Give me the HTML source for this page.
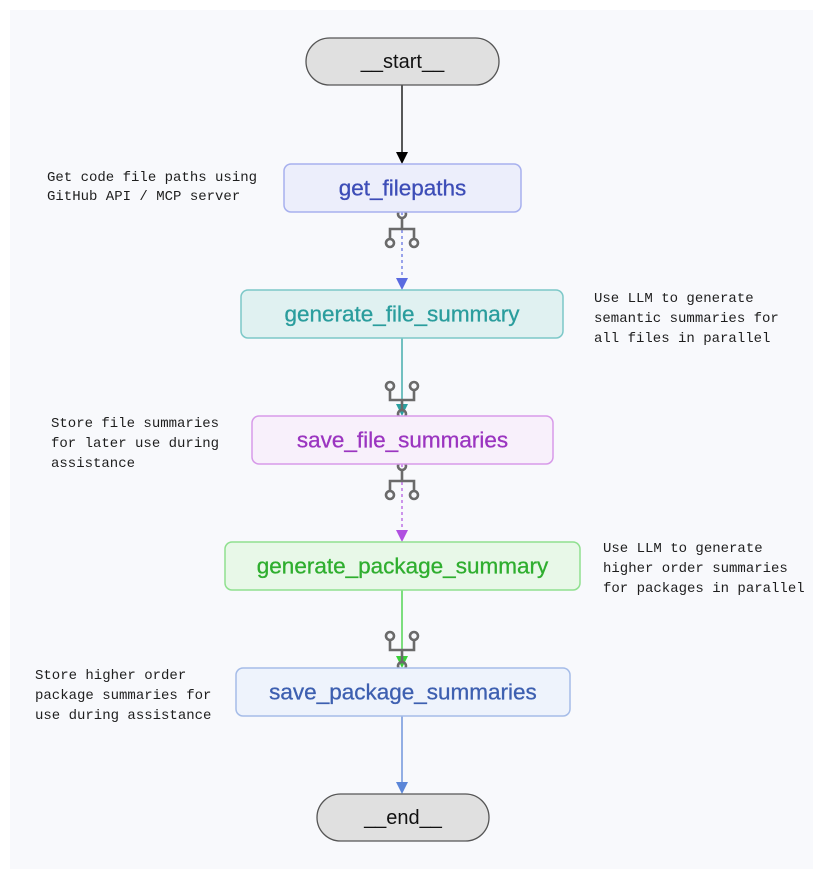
<!DOCTYPE html>
<html><head><meta charset="utf-8"><style>
html,body{margin:0;padding:0;background:#fff;}
svg{display:block;}
.n{font-family:"Liberation Sans",sans-serif;font-size:22.5px;text-anchor:middle;dominant-baseline:central;stroke-width:0.3px;}
.s{font-family:"Liberation Sans",sans-serif;font-size:20px;text-anchor:middle;dominant-baseline:central;}
.a{font-family:"Liberation Mono",monospace;font-size:14px;fill:#1e1e1e;}
</style></head><body>
<svg width="823" height="879" viewBox="0 0 823 879" xmlns="http://www.w3.org/2000/svg">
<rect x="10" y="10" width="803" height="859" fill="#f8f9fc"/>

<!-- edges -->
<line x1="402" y1="85" x2="402" y2="152" stroke="#000" stroke-width="1.3"/><path d="M396 152 L408 152 L402 164 Z" fill="#000"/>
<line x1="402" y1="212" x2="402" y2="278" stroke="#5a6ae0" stroke-width="1.2" stroke-dasharray="3,3"/><path d="M396 278 L408 278 L402 290 Z" fill="#5a6ae0"/>
<line x1="402" y1="338" x2="402" y2="404" stroke="#2aa0a0" stroke-width="1.3"/><path d="M396 404 L408 404 L402 416 Z" fill="#2aa0a0"/>
<line x1="402" y1="464" x2="402" y2="530" stroke="#b050e0" stroke-width="1.2" stroke-dasharray="3,3"/><path d="M396 530 L408 530 L402 542 Z" fill="#b050e0"/>
<line x1="402" y1="590" x2="402" y2="656" stroke="#3ad03a" stroke-width="1.3"/><path d="M396 656 L408 656 L402 668 Z" fill="#3ad03a"/>
<line x1="402" y1="716" x2="402" y2="782" stroke="#5b86d8" stroke-width="1.3"/><path d="M396 782 L408 782 L402 794 Z" fill="#5b86d8"/>

<!-- fork icons -->
<g fill="none" stroke="#6a6a6a" stroke-width="2.6">
<circle cx="402" cy="214" r="4"/><path d="M402 218 V229 M390 239 V229 H414 V239"/><circle cx="390" cy="243" r="4"/><circle cx="414" cy="243" r="4"/>
<circle cx="402" cy="466" r="4"/><path d="M402 470 V481 M390 491 V481 H414 V491"/><circle cx="390" cy="495" r="4"/><circle cx="414" cy="495" r="4"/>
<circle cx="390" cy="386" r="4"/><circle cx="414" cy="386" r="4"/><path d="M390 390 V400 H414 V390 M402 400 V410"/><circle cx="402" cy="414" r="4"/>
<circle cx="390" cy="636" r="4"/><circle cx="414" cy="636" r="4"/><path d="M390 640 V650 H414 V640 M402 650 V662"/><circle cx="402" cy="666" r="4"/>
</g>

<!-- nodes -->
<rect x="306" y="38" width="193" height="47" rx="23.5" fill="#e0e0e0" stroke="#555" stroke-width="1.3"/>
<text class="s" x="402.5" y="62" fill="#111">__start__</text>

<rect x="284" y="164" width="237" height="48" rx="7" fill="#eceefb" stroke="#a7b0ee" stroke-width="1.5"/>
<text class="n" x="402.5" y="188" fill="#3d4db7" stroke="#3d4db7">get_filepaths</text>

<rect x="241" y="290" width="322" height="48" rx="7" fill="#e0f1f1" stroke="#7cc8c8" stroke-width="1.5"/>
<text class="n" x="402" y="314" fill="#2a9d9d" stroke="#2a9d9d">generate_file_summary</text>

<rect x="252" y="416" width="301" height="48" rx="7" fill="#f8f0fb" stroke="#d79ae9" stroke-width="1.5"/>
<text class="n" x="402.5" y="440" fill="#9b35c0" stroke="#9b35c0">save_file_summaries</text>

<rect x="225" y="542" width="355" height="48" rx="7" fill="#e8f8e8" stroke="#8fe08f" stroke-width="1.5"/>
<text class="n" x="402.5" y="566" fill="#2fae2f" stroke="#2fae2f">generate_package_summary</text>

<rect x="236" y="668" width="334" height="48" rx="7" fill="#eef3fc" stroke="#a5bce8" stroke-width="1.5"/>
<text class="n" x="403" y="692" fill="#3d5fb0" stroke="#3d5fb0">save_package_summaries</text>

<rect x="317" y="794" width="172" height="47" rx="23.5" fill="#e0e0e0" stroke="#555" stroke-width="1.3"/>
<text class="s" x="403" y="818" fill="#111">__end__</text>

<!-- annotations -->
<text class="a" x="47" y="181">Get code file paths using</text>
<text class="a" x="47" y="200">GitHub API / MCP server</text>

<text class="a" x="594" y="302">Use LLM to generate</text>
<text class="a" x="594" y="322">semantic summaries for</text>
<text class="a" x="594" y="342">all files in parallel</text>

<text class="a" x="51" y="427">Store file summaries</text>
<text class="a" x="51" y="447">for later use during</text>
<text class="a" x="51" y="467">assistance</text>

<text class="a" x="603" y="552">Use LLM to generate</text>
<text class="a" x="603" y="572">higher order summaries</text>
<text class="a" x="603" y="592">for packages in parallel</text>

<text class="a" x="35" y="679">Store higher order</text>
<text class="a" x="35" y="699">package summaries for</text>
<text class="a" x="35" y="719">use during assistance</text>
</svg>
</body></html>
